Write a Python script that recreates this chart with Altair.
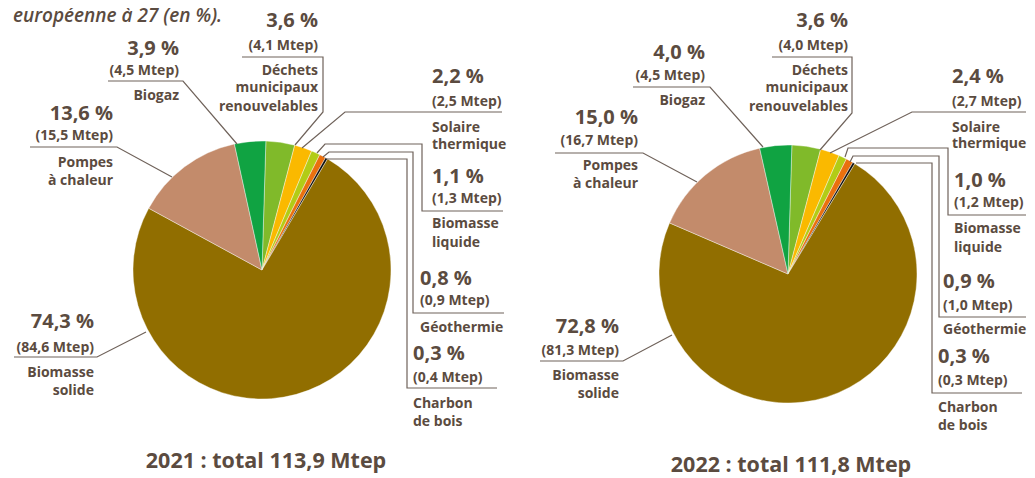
import math
import altair as alt
import pandas as pd

# ---------------- data ----------------
categories = ["Déchets municipaux renouvelables", "Solaire thermique", "Biomasse liquide",
              "Géothermie", "Charbon de bois", "Biomasse solide", "Pompes à chaleur", "Biogaz"]
name_lines = [["Déchets", "municipaux", "renouvelables"], ["Solaire", "thermique"],
              ["Biomasse", "liquide"], ["Géothermie"], ["Charbon", "de bois"],
              ["Biomasse", "solide"], ["Pompes", "à chaleur"], ["Biogaz"]]
colors = ["#80BA2A", "#FAB900", "#B2CC16", "#EA700E", "#111111", "#916E00", "#C38B6B", "#10A342"]

pct_2021 = [3.6, 2.2, 1.1, 0.8, 0.3, 74.3, 13.6, 3.9]
mtep_2021 = [4.1, 2.5, 1.3, 0.9, 0.4, 84.6, 15.5, 4.5]
pct_2022 = [3.6, 2.4, 1.0, 0.9, 0.3, 72.8, 15.0, 4.0]
mtep_2022 = [4.0, 2.7, 1.2, 1.0, 0.3, 81.3, 16.7, 4.5]
years = [2021, 2022]
totals = [113.9, 111.8]
caption = "européenne à 27 (en %)."

# ---------------- layout (page pixels) ----------------
TXT = "#5B4B40"
LINE = "#6F625A"
FONT = "Open Sans"
pie_center = {2021: (262, 270), 2022: (788, 274)}
RADIUS = 129
title_pos = {2021: (266, 468), 2022: (791, 472)}
caption_pos = (13, 22)

# per category: align, x, pct baseline, mtep baseline, name baselines, leader polyline
layout = {
    2021: [
        ("right", 318, 27, 50, [75, 92, 111], [(242, 57), (323, 57), (323, 112), (295, 145)]),
        ("left", 432, 83, 106, [132, 149], [(502, 112), (345, 112), (302, 148)]),
        ("left", 432, 183, 203, [228, 247], [(503, 211), (422, 211), (422, 144), (325, 144), (317, 153)]),
        ("left", 420, 285, 305, [332], [(504, 313), (413, 313), (413, 152), (329, 152), (323, 157)]),
        ("left", 413, 360, 382, [408, 426], [(497, 388), (407, 388), (407, 159), (327, 159)]),
        ("right", 94, 328, 352, [377, 395], [(14, 357), (97, 357), (146, 332)]),
        ("right", 113, 120, 140, [167, 185], [(30, 147), (117, 147), (172, 177)]),
        ("right", 179, 55, 75, [100], [(108, 81), (183, 81), (237, 144)]),
    ],
    2022: [
        ("right", 848, 27, 50, [75, 92, 111], [(772, 57), (852, 57), (852, 113), (820, 150)]),
        ("left", 952, 83, 106, [132, 148], [(1026, 112), (912, 112), (830, 153)]),
        ("left", 954, 187, 207, [233, 252], [(1026, 215), (948, 215), (948, 148), (848, 148), (845, 157)]),
        ("left", 943, 288, 310, [334], [(1026, 317), (939, 317), (939, 156), (853, 156), (850, 162)]),
        ("left", 938, 363, 385, [412, 430], [(1022, 393), (932, 393), (932, 163), (856, 163)]),
        ("right", 619, 333, 355, [380, 398], [(540, 361), (623, 361), (672, 335)]),
        ("right", 638, 124, 145, [170, 188], [(555, 153), (643, 153), (697, 182)]),
        ("right", 705, 59, 80, [105], [(633, 87), (710, 87), (763, 147)]),
    ],
}

W, H = 1019, 470
xs = alt.Scale(domain=[8, 8 + W])
ys = alt.Scale(domain=[8, 8 + H], reverse=True)


def fr(v):
    return f"{v:.1f}".replace(".", ",")


pcts = {2021: pct_2021, 2022: pct_2022}
mteps = {2021: mtep_2021, 2022: mtep_2022}

# ---------------- pies ----------------
OFF = 0.03
layers = []
for yr in years:
    df = pd.DataFrame({"cat": categories, "pct": pcts[yr], "idx": list(range(len(categories)))})
    cx, cy = pie_center[yr]
    arc = alt.Chart(df).mark_arc(radius=RADIUS, stroke="white", strokeWidth=0.4).encode(
        theta=alt.Theta("pct:Q", stack=True, scale=alt.Scale(range=[OFF, OFF + 2 * math.pi])),
        order=alt.Order("idx:Q"),
        color=alt.Color("cat:N", scale=alt.Scale(domain=categories, range=colors), legend=None),
        x=alt.value(cx - 8),
        y=alt.value(cy - 8),
    )
    layers.append(arc)

# ---------------- leader lines ----------------
rows = []
for yr in years:
    for i, lay in enumerate(layout[yr]):
        for s, (px, py) in enumerate(lay[5]):
            rows.append({"lid": f"{yr}-{i}", "seq": s, "x": px, "y": py})
lines_df = pd.DataFrame(rows)
leaders = alt.Chart(lines_df).mark_line(color=LINE, strokeWidth=1.2).encode(
    x=alt.X("x:Q", scale=xs, axis=None),
    y=alt.Y("y:Q", scale=ys, axis=None),
    detail="lid:N",
    order="seq:Q",
)
layers.append(leaders)

# ---------------- texts ----------------
trows = []
for yr in years:
    for i, lay in enumerate(layout[yr]):
        al, tx, py_, my_, nys, _ = lay
        trows.append({"x": tx, "y": py_, "t": fr(pcts[yr][i]) + " %", "kind": "pct", "al": al})
        trows.append({"x": tx, "y": my_, "t": "(" + fr(mteps[yr][i]) + " Mtep)", "kind": "mtep", "al": al})
        for ln, ny in zip(name_lines[i], nys):
            trows.append({"x": tx, "y": ny, "t": ln, "kind": "name", "al": al})
for yr, tot in zip(years, totals):
    tx, ty = title_pos[yr]
    trows.append({"x": tx, "y": ty, "t": f"{yr} : total {fr(tot)} Mtep", "kind": "title", "al": "center"})
trows.append({"x": caption_pos[0], "y": caption_pos[1], "t": caption, "kind": "caption", "al": "left"})
tdf = pd.DataFrame(trows)

styles = {
    "pct": dict(fontSize=20, fontWeight="bold"),
    "mtep": dict(fontSize=14, fontWeight="bold"),
    "name": dict(fontSize=14, fontWeight="bold"),
    "title": dict(fontSize=21.5, fontWeight="bold"),
    "caption": dict(fontSize=19, fontWeight=600, fontStyle="italic"),
}
for kind, st in styles.items():
    for al in ["left", "right", "center"]:
        sub = tdf[(tdf["kind"] == kind) & (tdf["al"] == al)].reset_index(drop=True)
        if len(sub) == 0:
            continue
        layers.append(
            alt.Chart(sub).mark_text(align=al, baseline="alphabetic", font=FONT, color=TXT, **st).encode(
                x=alt.X("x:Q", scale=xs, axis=None),
                y=alt.Y("y:Q", scale=ys, axis=None),
                text="t:N",
            )
        )

chart = (
    alt.layer(*layers)
    .resolve_scale(theta="independent")
    .properties(width=W, height=H, padding=0, autosize=alt.AutoSizeParams(type="none"))
    .configure_view(strokeWidth=0)
)
chart.save("out.html", embed_options={"renderer": "svg", "actions": False})
